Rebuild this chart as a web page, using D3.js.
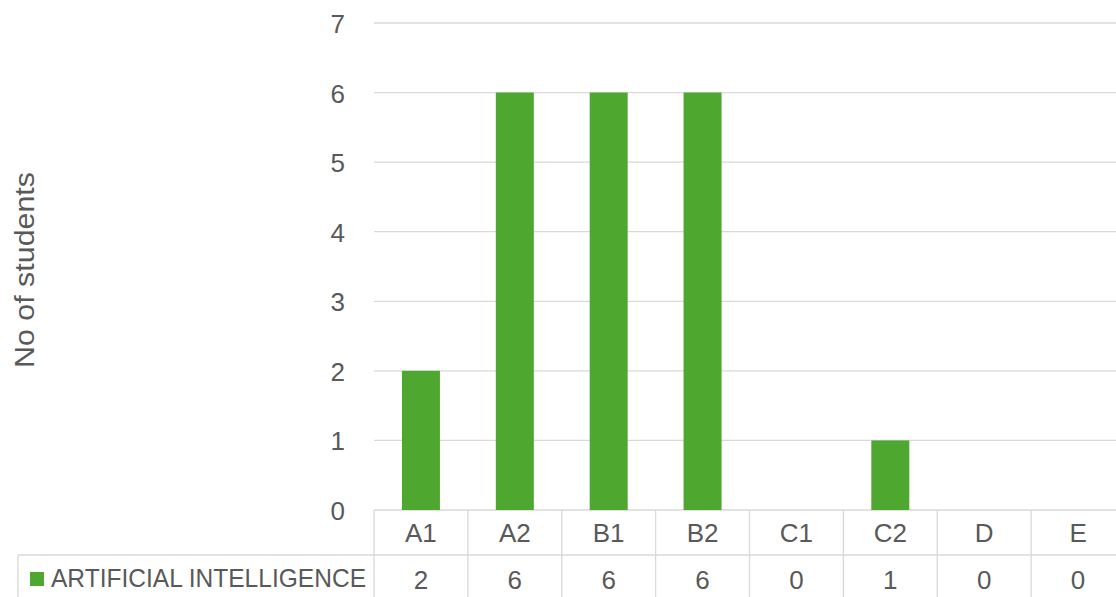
<!DOCTYPE html>
<html><head><meta charset="utf-8">
<script src="https://cdn.jsdelivr.net/npm/d3@7"></script>
<style>body{margin:0;background:#fff;} svg{display:block;}</style>
</head><body>
<svg id="c" width="1116" height="597"></svg>
<script>
const categories = ["A1","A2","B1","B2","C1","C2","D","E"];
const seriesName = "ARTIFICIAL INTELLIGENCE";
const values = [2,6,6,6,0,1,0,0];
const yTicks = [0,1,2,3,4,5,6,7];

(function(){
const W = 1116, H = 597;
const plotLeft = 374, plotRight = 1125, plotTop = 23, zeroY = 510;
const row1 = 555, tableBottom = 597;
const font = "'Liberation Sans', Arial, sans-serif";
const textCol = "#595959", gridCol = "#d9d9d9", green = "#4ea72e";
const fs = 26;

const svg = d3.select("#c");
const x = d3.scaleBand().domain(categories).range([plotLeft, plotRight]).paddingInner(0).paddingOuter(0);
const y = d3.scaleLinear().domain([0,7]).range([zeroY, plotTop]);

svg.append("g").selectAll("line").data(yTicks).join("line")
  .attr("x1", plotLeft).attr("x2", W).attr("y1", d=>y(d)).attr("y2", d=>y(d))
  .attr("stroke", gridCol).attr("stroke-width", 1.3);

svg.append("g").selectAll("text").data(yTicks).join("text")
  .attr("x", 345).attr("y", d=>y(d)+10)
  .attr("text-anchor","end").attr("font-family",font).attr("font-size",fs)
  .attr("fill",textCol).text(d=>d);

const bw = 38;
svg.append("g").selectAll("rect").data(values).join("rect")
  .attr("x",(d,i)=>x(categories[i]) + x.bandwidth()/2 - bw/2)
  .attr("width",bw)
  .attr("y",d=>y(d)).attr("height",d=>y(0)-y(d))
  .attr("fill",green);

svg.append("text").attr("transform","translate(34,270) rotate(-90)")
  .attr("text-anchor","middle").attr("font-family",font).attr("font-size",27)
  .attr("textLength",196).attr("lengthAdjust","spacingAndGlyphs")
  .attr("fill",textCol).text("No of students");

const tg = svg.append("g").attr("stroke",gridCol).attr("stroke-width",1.3);
tg.append("line").attr("x1",18).attr("x2",W).attr("y1",row1).attr("y2",row1);
tg.append("line").attr("x1",18).attr("x2",18).attr("y1",row1).attr("y2",tableBottom);
tg.selectAll("line.v").data(d3.range(categories.length+1)).join("line").attr("class","v")
  .attr("x1",i=>plotLeft + i*x.bandwidth()).attr("x2",i=>plotLeft + i*x.bandwidth())
  .attr("y1",zeroY).attr("y2",tableBottom);

svg.append("g").selectAll("text").data(categories).join("text")
  .attr("x",d=>x(d)+x.bandwidth()/2).attr("y",542)
  .attr("text-anchor","middle").attr("font-family",font).attr("font-size",fs)
  .attr("fill",textCol).text(d=>d);

svg.append("g").selectAll("text").data(values).join("text")
  .attr("x",(d,i)=>x(categories[i])+x.bandwidth()/2).attr("y",589)
  .attr("text-anchor","middle").attr("font-family",font).attr("font-size",fs)
  .attr("fill",textCol).text(d=>d);

svg.append("rect").attr("x",30).attr("y",572).attr("width",14).attr("height",14).attr("fill",green);
svg.append("text").attr("x",51).attr("y",587).attr("font-family",font).attr("font-size",fs)
  .attr("fill",textCol).attr("textLength",315).attr("lengthAdjust","spacingAndGlyphs").text(seriesName);
})();
</script>
</body></html>
